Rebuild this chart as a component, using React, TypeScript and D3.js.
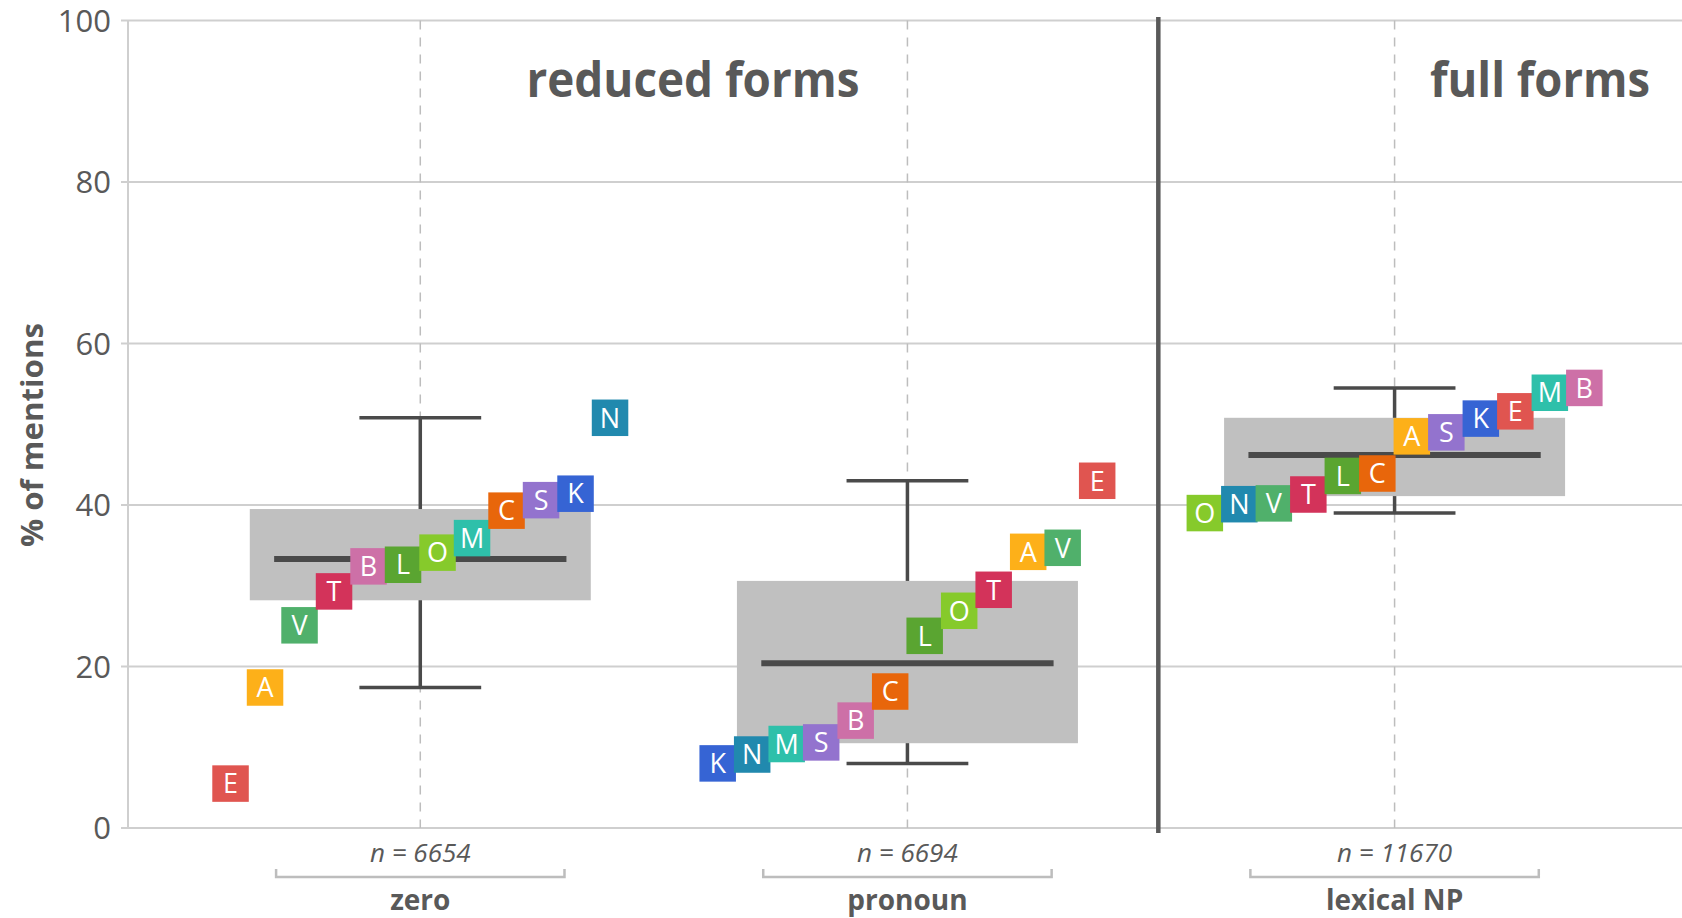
import React, { useEffect, useRef } from 'react';
import * as d3 from 'd3';

// categories (x axis) and their sample sizes
const categories = ['zero', 'pronoun', 'lexical NP'];
const sampleSizes = [6654, 6694, 11670];

// box summary per category (% of mentions)
const whiskerLow = [17.4, 8.0, 39.0];
const boxLow = [28.2, 10.5, 41.1];
const medians = [33.3, 20.4, 46.2];
const boxHigh = [39.5, 30.6, 50.8];
const whiskerHigh = [50.8, 43.0, 54.5];

// one square per language, value per category
const languages = ['A', 'B', 'C', 'E', 'K', 'L', 'M', 'N', 'O', 'S', 'T', 'V'];
const zeroPct = [17.4, 32.4, 39.3, 5.5, 41.4, 32.6, 35.9, 50.8, 34.1, 40.6, 29.3, 25.1];
const pronounPct = [34.2, 13.3, 16.9, 43.0, 8.0, 23.8, 10.4, 9.1, 26.9, 10.6, 29.5, 34.7];
const lexicalPct = [48.5, 54.5, 43.9, 51.6, 50.7, 43.6, 53.9, 40.1, 39.0, 49.0, 41.3, 40.2];
const langColors = ['#FDB019', '#CD70A7', '#E8660B', '#E05550', '#3664D4', '#5AA531',
  '#2EC0AA', '#2189AE', '#86CA2B', '#9373CE', '#D3335A', '#50B06B'];

const yTicks = [0, 20, 40, 60, 80, 100];
const groupTitles = ['reduced forms', 'full forms'];

const W = 1682;
const H = 918;
const TEXT = '#595959';
const GRID = '#CFCFCF';
const DARK = '#4A4A4A';

export default function App() {
  const ref = useRef<SVGSVGElement | null>(null);

  useEffect(() => {
    const svg = d3.select(ref.current);
    svg.selectAll('*').remove();

    const x = d3.scaleLinear().domain([0.4, 3.59]).range([128, W]);
    const y = d3.scaleLinear().domain([0, 100]).range([828, 20.5]);
    const rank = d3.scaleBand<number>().domain(d3.range(12)).range([-207, 207]);
    const sq = 36.5;

    // grid + y ticks
    svg.append('g').selectAll('line').data(yTicks).join('line')
      .attr('x1', 121).attr('x2', W)
      .attr('y1', d => y(d)).attr('y2', d => y(d))
      .attr('stroke', GRID).attr('stroke-width', 2);
    svg.append('line')
      .attr('x1', 128).attr('x2', 128).attr('y1', y(100)).attr('y2', y(0))
      .attr('stroke', GRID).attr('stroke-width', 2);
    svg.append('g').selectAll('text').data(yTicks).join('text')
      .attr('x', 111).attr('y', d => y(d)).attr('dy', '0.36em')
      .attr('text-anchor', 'end')
      .attr('font-family', 'Open Sans').attr('font-size', 31).attr('fill', TEXT)
      .text(d => d);

    svg.append('text')
      .attr('transform', `translate(43, 435) rotate(-90)`)
      .attr('text-anchor', 'middle')
      .attr('font-family', 'Open Sans').attr('font-weight', 'bold')
      .attr('font-size', 30).attr('fill', TEXT)
      .attr('textLength', 224).attr('lengthAdjust', 'spacingAndGlyphs')
      .text('% of mentions');

    // dashed category lines
    svg.append('g').selectAll('line').data(categories).join('line')
      .attr('x1', (d, i) => x(i + 1)).attr('x2', (d, i) => x(i + 1))
      .attr('y1', y(100)).attr('y2', y(0))
      .attr('stroke', '#BDBDBD').attr('stroke-width', 1.5)
      .attr('stroke-dasharray', '9,8');

    // separator between reduced / full forms
    svg.append('line')
      .attr('x1', x(2.515)).attr('x2', x(2.515))
      .attr('y1', 17).attr('y2', 833)
      .attr('stroke', TEXT).attr('stroke-width', 4.5);

    // titles
    const titleX = [693, 1540];
    const titleW = [333, 220];
    svg.append('g').selectAll('text').data(groupTitles).join('text')
      .attr('x', (d, i) => titleX[i]).attr('y', 97)
      .attr('text-anchor', 'middle')
      .attr('font-family', 'Open Sans').attr('font-weight', 'bold')
      .attr('font-size', 48).attr('fill', TEXT)
      .attr('textLength', (d, i) => titleW[i]).attr('lengthAdjust', 'spacingAndGlyphs')
      .text(d => d);

    const values = [zeroPct, pronounPct, lexicalPct];

    categories.forEach((cat, i) => {
      const c = i + 1;
      const g = svg.append('g');

      // whiskers
      g.append('line')
        .attr('x1', x(c)).attr('x2', x(c))
        .attr('y1', y(whiskerLow[i])).attr('y2', y(whiskerHigh[i]))
        .attr('stroke', DARK).attr('stroke-width', 3.5);
      [whiskerLow[i], whiskerHigh[i]].forEach(v => {
        g.append('line')
          .attr('x1', x(c - 0.125)).attr('x2', x(c + 0.125))
          .attr('y1', y(v)).attr('y2', y(v))
          .attr('stroke', DARK).attr('stroke-width', 3.5);
      });

      // box
      g.append('rect')
        .attr('x', x(c - 0.35)).attr('width', x(c + 0.35) - x(c - 0.35))
        .attr('y', y(boxHigh[i])).attr('height', y(boxLow[i]) - y(boxHigh[i]))
        .attr('fill', '#C0C0C0');

      // median
      g.append('line')
        .attr('x1', x(c - 0.3)).attr('x2', x(c + 0.3))
        .attr('y1', y(medians[i])).attr('y2', y(medians[i]))
        .attr('stroke', DARK).attr('stroke-width', 6);

      // language squares, ordered by value
      const order = d3.range(languages.length).sort((a, b) => values[i][a] - values[i][b]);
      const pts = order.map((li, r) => ({
        lang: languages[li], color: langColors[li], v: values[i][li], r
      }));
      const cells = g.selectAll('g.cell').data(pts).join('g')
        .attr('class', 'cell')
        .attr('transform', d =>
          `translate(${x(c) + (rank(d.r) ?? 0) + rank.bandwidth() / 2}, ${y(d.v)})`);
      cells.append('rect')
        .attr('x', -sq / 2).attr('y', -sq / 2).attr('width', sq).attr('height', sq)
        .attr('fill', d => d.color);
      cells.append('text')
        .attr('text-anchor', 'middle').attr('dy', '0.36em')
        .attr('font-family', 'Open Sans').attr('font-size', 27).attr('fill', '#fff')
        .text(d => d.lang);

      // bottom labels
      g.append('text')
        .attr('x', x(c)).attr('y', 862)
        .attr('text-anchor', 'middle')
        .attr('font-family', 'Open Sans').attr('font-style', 'italic')
        .attr('font-size', 26).attr('fill', TEXT)
        .text(`n = ${sampleSizes[i]}`);
      const bx0 = x(c - 0.296);
      const bx1 = x(c + 0.296);
      g.append('path')
        .attr('d', `M${bx0},869V877H${bx1}V869`)
        .attr('fill', 'none').attr('stroke', '#BDBDBD').attr('stroke-width', 2.5);
      g.append('text')
        .attr('x', x(c)).attr('y', 910)
        .attr('text-anchor', 'middle')
        .attr('font-family', 'Open Sans').attr('font-weight', 'bold')
        .attr('font-size', 28).attr('fill', TEXT)
        .text(cat);
    });
  }, []);

  return (
    <svg ref={ref} width={W} height={H}
      style={{ position: 'absolute', left: 0, top: 0, background: '#fff' }} />
  );
}
